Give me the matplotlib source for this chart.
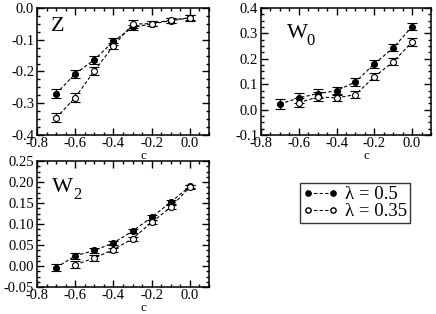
import matplotlib
matplotlib.use("Agg")
import matplotlib.pyplot as plt
from matplotlib.ticker import MultipleLocator, FormatStrFormatter
from matplotlib.lines import Line2D

plt.rcParams['font.family'] = ['Liberation Serif', 'DejaVu Serif']
plt.rcParams['axes.unicode_minus'] = False

c_vals = [-0.7, -0.6, -0.5, -0.4, -0.3, -0.2, -0.1, 0.0]
c_open_w = [-0.6, -0.5, -0.4, -0.3, -0.2, -0.1, 0.0]

z_l05 = [-0.270, -0.207, -0.163, -0.105, -0.061, -0.050, -0.040, -0.031]
z_l05_err = [0.014, 0.013, 0.013, 0.010, 0.008, 0.008, 0.008, 0.008]
z_l035 = [-0.346, -0.282, -0.198, -0.119, -0.051, -0.049, -0.038, -0.031]
z_l035_err = [0.014, 0.013, 0.013, 0.010, 0.012, 0.008, 0.008, 0.010]

w0_l05 = [0.022, 0.046, 0.063, 0.074, 0.109, 0.180, 0.243, 0.327]
w0_l05_err = [0.021, 0.020, 0.018, 0.016, 0.016, 0.016, 0.014, 0.013]
w0_l035 = [0.027, 0.050, 0.046, 0.059, 0.129, 0.188, 0.266]
w0_l035_err = [0.018, 0.018, 0.014, 0.014, 0.014, 0.014, 0.014]

w2_l05 = [-0.004, 0.024, 0.037, 0.055, 0.083, 0.116, 0.152, 0.190]
w2_l05_err = [0.008, 0.008, 0.007, 0.005, 0.005, 0.006, 0.005, 0.004]
w2_l035 = [0.003, 0.019, 0.039, 0.065, 0.104, 0.140, 0.188]
w2_l035_err = [0.008, 0.007, 0.005, 0.005, 0.005, 0.005, 0.004]

legend_labels = ['\u03bb = 0.5', '\u03bb = 0.35']

fig = plt.figure(figsize=(4.36, 3.14), dpi=100)
W, H = 436, 314

def ax_px(l, r, t, b):
    return fig.add_axes([l / W, 1 - b / H, (r - l) / W, (b - t) / H])

axZ = ax_px(37, 209, 8, 135)
axW0 = ax_px(261, 431, 8, 135)
axW2 = ax_px(37, 209, 161, 287)

DASH = (0, (3, 2))

def style(ax, ylim, ymaj, yfmt):
    ax.set_xlim(-0.8, 0.1)
    ax.set_ylim(*ylim)
    ax.xaxis.set_major_locator(MultipleLocator(0.2))
    ax.xaxis.set_minor_locator(MultipleLocator(0.05))
    ax.yaxis.set_major_locator(MultipleLocator(ymaj))
    ax.yaxis.set_minor_locator(MultipleLocator(ymaj / 4))
    ax.xaxis.set_major_formatter(FormatStrFormatter('%.1f'))
    ax.yaxis.set_major_formatter(FormatStrFormatter(yfmt))
    ax.tick_params(which='both', direction='in', top=True, right=True,
                   labelsize=10.5, width=1.0, pad=2)
    ax.tick_params(axis='x', pad=1.5)
    ax.tick_params(which='major', length=5)
    ax.tick_params(which='minor', length=2.5)
    for s in ax.spines.values():
        s.set_linewidth(1.1)
    ax.text(0.62, -0.168, 'c', transform=ax.transAxes, fontsize=9.5,
            ha='center', va='center')

def series(ax, x, y, e, filled):
    ax.errorbar(x, y, yerr=e, fmt='o', ms=4.3, color='black',
                mfc='black' if filled else 'white', mec='black', mew=0.8,
                ls=DASH, lw=0.8, ecolor='black', elinewidth=0.9,
                capsize=3.6, capthick=1.0, zorder=3)

def label(ax, x, y, main, sub):
    ax.text(x, y, main, transform=ax.transAxes, fontsize=16,
            ha='left', va='baseline')
    if sub:
        ax.text(x + 0.118, y - 0.05, sub, transform=ax.transAxes,
                fontsize=12, ha='left', va='baseline')

series(axZ, c_vals, z_l05, z_l05_err, True)
series(axZ, c_vals, z_l035, z_l035_err, False)
style(axZ, (-0.4, 0.0), 0.1, '%.1f')
label(axZ, 0.08, 0.82, 'Z', None)

series(axW0, c_vals, w0_l05, w0_l05_err, True)
series(axW0, c_open_w, w0_l035, w0_l035_err, False)
style(axW0, (-0.1, 0.4), 0.1, '%.1f')
label(axW0, 0.15, 0.76, 'W', '0')

series(axW2, c_vals, w2_l05, w2_l05_err, True)
series(axW2, c_open_w, w2_l035, w2_l035_err, False)
style(axW2, (-0.05, 0.25), 0.05, '%.2f')
label(axW2, 0.09, 0.75, 'W', '2')

handles = [
    Line2D([], [], color='black', ls=DASH, lw=0.8, marker='o', ms=3.8,
           mfc='black', mec='black'),
    Line2D([], [], color='black', ls=DASH, lw=0.8, marker='o', ms=3.8,
           mfc='white', mec='black'),
]
leg = fig.legend(handles, legend_labels, loc='upper left',
                 bbox_to_anchor=(300 / W, 1 - 183 / H), fontsize=13.5,
                 frameon=True, fancybox=False, edgecolor='black',
                 handlelength=1.9, handletextpad=0.35, borderpad=0.15,
                 labelspacing=0.0, numpoints=2, borderaxespad=0,
                 handleheight=0.6)
leg.get_frame().set_linewidth(1.0)

fig.savefig('out.png', dpi=100)
